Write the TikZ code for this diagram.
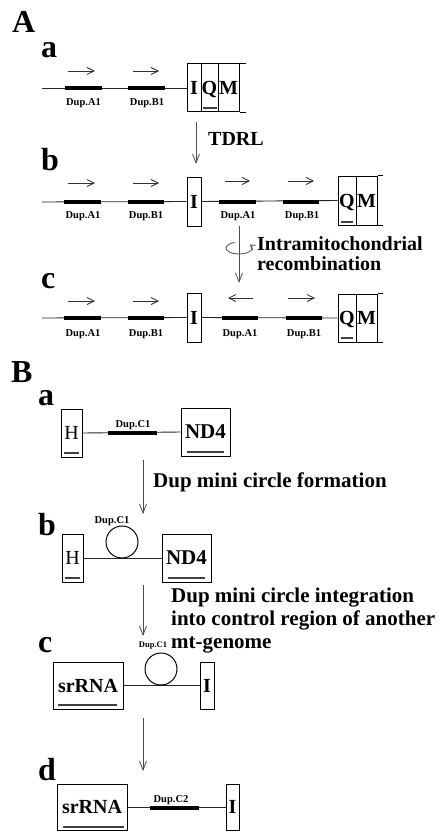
\documentclass[tikz,border=0pt]{standalone}
\usepackage{fontspec}
\setmainfont{Liberation Serif}
\usetikzlibrary{arrows.meta}
\begin{document}
\begin{tikzpicture}[x=1pt,y=-1pt,
  bb/.style={line width=0.9pt, black!85},
  bar/.style={line width=3.6pt, black},
  gbox/.style={draw, line width=1pt, inner sep=0pt, minimum height=48pt,
     font=\fontsize{20}{20}\selectfont\bfseries, text height=13.2pt, text depth=0pt},
  hbox/.style={gbox, font=\fontsize{20}{20}\selectfont},
  boxline/.style={line width=1pt},
  ul/.style={line width=1.1pt, black!75},
  lab/.style={inner sep=0pt, anchor=base, font=\fontsize{10.5}{10.5}\selectfont\bfseries},
  big/.style={inner sep=0pt, anchor=base west, font=\fontsize{20}{20}\selectfont\bfseries},
  bigB/.style={big, font=\fontsize{21}{21}\selectfont\bfseries},
  letter/.style={inner sep=0pt, anchor=base west, font=\fontsize{32}{32}\selectfont\bfseries},
  varr/.style={line width=0.8pt, black!70, -{Straight Barb[length=9pt,width=7pt]}},
  harr/.style={line width=0.8pt, black!80, -{Straight Barb[length=7pt,width=7pt]}}]
\useasboundingbox (0,0) rectangle (439,832);

% ---------------- Panel A ----------------
\node[letter] (LA) at (12,33) {A};
% row a
\node[letter] (La1) at (41,58) {a};
\coordinate (aL) at (42,88);
\node[gbox, minimum width=14pt] (aI) at (194,88) {I};
\node[gbox, minimum width=17pt] (aQ) at (209.5,88) {Q};
\node[gbox, minimum width=21pt] (aM) at (228.5,88) {M};
\draw[boxline] (aM.north east) -- ++(6,0) (aM.south east) -- ++(6,0);
\draw[ul] (203,108) -- (217,108);
\draw[bb] (aL) -- (aI.west);
\draw[bar] (65,88) -- (102,88);
\draw[bar] (128,88) -- (165,88);
\draw[harr] (68,71) -- (95,71);
\draw[harr] (133,71) -- (159,71);
\node[lab] (aA1) at (83.5,106) {Dup.A1};
\node[lab] (aB1) at (147,106) {Dup.B1};
% TDRL arrow
\coordinate (t1) at (196,122);
\coordinate (t2) at (196,164);
\draw[varr] (t1) -- (t2);
\node[big] (tdrl) at (208,145) {TDRL};

% row b
\node[letter] (Lb1) at (41,170) {b};
\coordinate (bL) at (42,202);
\node[gbox, minimum width=14pt, minimum height=49pt] (bI) at (194,201.5) {I};
\node[gbox, minimum width=18pt, minimum height=49pt] (bQ) at (347,200.5) {Q};
\node[gbox, minimum width=21pt, minimum height=49pt] (bM) at (366.5,200.5) {M};
\draw[boxline] (bM.north east) -- ++(5,0) (bM.south east) -- ++(5,0);
\draw[ul] (341,222) -- (353,222);
\draw[bb] (bL) -- (bI.west);
\draw[bb] (bI.east) -- (bQ.west);
\draw[bar] (64,202) -- (101,202);
\draw[bar] (128,202) -- (164,202);
\draw[bar] (219,202) -- (256,202);
\draw[bar] (283,202) -- (319,202);
\draw[harr] (68,183) -- (95,183);
\draw[harr] (133,183) -- (159,183);
\draw[harr] (225,181) -- (250,181);
\draw[harr] (288,181) -- (314,181);
\node[lab] (bA1) at (83,218) {Dup.A1};
\node[lab] (bB1) at (146,218) {Dup.B1};
\node[lab] (bA2) at (238,218) {Dup.A1};
\node[lab] (bB2) at (302,218) {Dup.B1};
% recombination arrow
\coordinate (r1) at (239,226);
\coordinate (r2) at (239,283);
\draw[varr] (r1) -- (r2);
\draw[line width=0.8pt, black!70, -{Straight Barb[length=5pt,width=6pt]}]
  (234.6,242.4) arc[start angle=250, end angle=-35, x radius=13, y radius=6];
\node[big] (intra) at (257,250) {Intramitochondrial};
\node[big] (recomb) at (257,270) {recombination};

% row c
\node[letter] (Lc1) at (41,288) {c};
\coordinate (cL) at (42,318);
\node[gbox, minimum width=14pt, minimum height=49pt] (cI) at (194,317.5) {I};
\node[gbox, minimum width=18pt, minimum height=48pt] (cQ) at (347,318) {Q};
\node[gbox, minimum width=21pt, minimum height=48pt] (cM) at (366.5,318) {M};
\draw[boxline] (cM.north east) -- ++(5,0) (cM.south east) -- ++(5,0);
\draw[ul] (341,338) -- (353,338);
\draw[bb] (cL) -- (cI.west);
\draw[bb] (cI.east) -- (cQ.west);
\draw[bar] (64,318) -- (101,318);
\draw[bar] (128,318) -- (164,318);
\draw[bar] (222,318) -- (258,318);
\draw[bar] (286,318) -- (322,318);
\draw[harr] (68,301) -- (95,301);
\draw[harr] (133,301) -- (159,301);
\draw[harr] (253,298) -- (228,298);
\draw[harr] (288,298) -- (315,298);
\node[lab] (cA1) at (83,336) {Dup.A1};
\node[lab] (cB1) at (146,336) {Dup.B1};
\node[lab] (cA2) at (240,336) {Dup.A1};
\node[lab] (cB2) at (304,336) {Dup.B1};

% ---------------- Panel B ----------------
\node[letter] (LB) at (11,382) {B};
% row a
\node[letter] (La2) at (38,405) {a};
\node[hbox, minimum width=21pt] (BaH) at (71.5,433) {H};
\node[gbox, minimum width=49pt, font=\fontsize{21}{21}\selectfont\bfseries] (BaN) at (205.5,432) {ND4};
\draw[ul] (64,453) -- (79,453);
\draw[ul] (187,452) -- (224,452);
\draw[bb] (BaH.east) -- (BaN.west);
\draw[bar] (108,433) -- (157,433);
\node[lab] (BaC) at (133,427) {Dup.C1};
\coordinate (f1) at (143,460);
\coordinate (f2) at (143,514);
\draw[varr] (f1) -- (f2);
\node[bigB] (form) at (153,487) {Dup mini circle formation};

% row b
\node[letter] (Lb2) at (38,535) {b};
\node[hbox, minimum width=21pt] (BbH) at (72.5,558) {H};
\node[gbox, minimum width=49pt, font=\fontsize{21}{21}\selectfont\bfseries] (BbN) at (186.5,558) {ND4};
\draw[ul] (65,578) -- (80,578);
\draw[ul] (168,578) -- (205,578);
\draw[bb] (BbH.east) -- (BbN.west);
\node[draw, circle, line width=1pt, minimum size=32pt, inner sep=0pt] (circ1) at (122,542) {};
\node[lab] (BbC) at (112,523) {Dup.C1};
\coordinate (g1) at (143,585);
\coordinate (g2) at (143,636);
\draw[varr] (g1) -- (g2);
\node[bigB] (int1) at (171,602) {Dup mini circle integration};
\node[bigB] (int2) at (171,625) {into control region of another};
\node[bigB] (int3) at (171,648) {mt-genome};

% row c
\node[letter] (Lc2) at (38,652) {c};
\node[gbox, minimum width=70pt, minimum height=47pt] (BcS) at (88,685.5) {srRNA};
\node[gbox, minimum width=14pt, minimum height=47pt] (BcI) at (207,685.5) {I};
\draw[ul] (58,705) -- (117,705);
\draw[bb] (BcS.east) -- (BcI.west);
\node[draw, circle, line width=1pt, minimum size=32pt, inner sep=0pt] (circ2) at (161,669) {};
\node[lab, font=\fontsize{8.5}{8.5}\selectfont\bfseries] (BcC) at (153,647) {Dup.C1};
\coordinate (h1) at (143,718);
\coordinate (h2) at (143,771);
\draw[varr] (h1) -- (h2);

% row d
\node[letter] (Ld2) at (38,780) {d};
\node[gbox, minimum width=70pt, minimum height=46pt] (BdS) at (92,807) {srRNA};
\node[gbox, minimum width=13pt, minimum height=46pt] (BdI) at (232.5,807) {I};
\draw[ul] (63,827) -- (124,827);
\draw[bb] (BdS.east) -- (BdI.west);
\draw[bar] (150,808) -- (199,808);
\node[lab] (BdC) at (171,802) {Dup.C2};
\end{tikzpicture}
\end{document}
